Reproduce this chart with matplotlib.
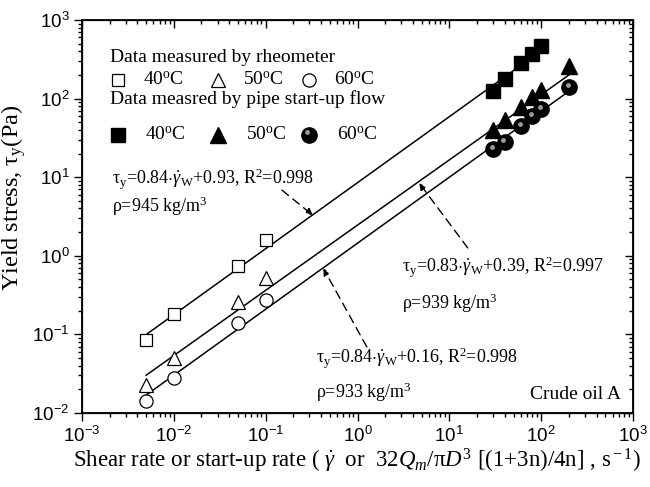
import numpy as np
import matplotlib
matplotlib.use('Agg')
import matplotlib.pyplot as plt
from matplotlib.ticker import LogLocator, FixedFormatter, FixedLocator, NullFormatter

plt.rcParams['font.family'] = ['Liberation Serif', 'DejaVu Serif']
plt.rcParams['mathtext.fontset'] = 'custom'
plt.rcParams['mathtext.rm'] = 'Liberation Serif'
plt.rcParams['mathtext.it'] = 'Liberation Serif:italic'
plt.rcParams['mathtext.sf'] = 'Liberation Sans'

# rheometer data
rate_rheo = [0.005, 0.01, 0.05, 0.1]
rheo_40 = [0.085, 0.18, 0.74, 1.6]
rheo_50 = [0.023, 0.05, 0.26, 0.52]
rheo_60 = [0.014, 0.028, 0.14, 0.27]

# pipe start-up data
rate_pipe_40 = [30, 40, 60, 80, 100]
pipe_40 = [125, 175, 280, 370, 470]
rate_pipe = [30, 40, 60, 80, 100, 200]
pipe_50 = [40, 53, 78, 105, 128, 260]
pipe_60 = [23, 28, 45, 60, 74, 140]

# fits: log(tau) = a*log(rate) + b
fit_a = [0.84, 0.83, 0.84]
fit_b = [0.93, 0.39, 0.16]
fit_range = [(0.005, 100), (0.005, 200), (0.005, 200)]

xt = [1e-3, 1e-2, 1e-1, 1e0, 1e1, 1e2, 1e3]
yt = [1e-2, 1e-1, 1e0, 1e1, 1e2, 1e3]

fig = plt.figure(figsize=(6.5, 4.87), dpi=100)
ax = fig.add_axes([0.126, 0.152, 0.848, 0.807])

for a, b, (x0, x1) in zip(fit_a, fit_b, fit_range):
    xx = np.array([x0, x1])
    ax.plot(xx, 10 ** (a * np.log10(xx) + b), color='black', lw=1.1, zorder=1)

ax.plot(rate_rheo, rheo_40, 's', mfc='white', mec='black', ms=8, mew=0.9, zorder=3)
ax.plot(rate_rheo, rheo_50, '^', mfc='white', mec='black', ms=10, mew=0.9, zorder=3)
ax.plot(rate_rheo, rheo_60, 'o', mfc='white', mec='black', ms=9.5, mew=0.9, zorder=3)

ax.plot(rate_pipe_40, pipe_40, 's', color='black', ms=10, zorder=3)
ax.plot(rate_pipe, pipe_50, '^', color='black', ms=11, zorder=3)
ax.plot(rate_pipe, pipe_60, 'o', color='black', ms=11, zorder=3)
ax.plot(np.array(rate_pipe) * 0.97, np.array(pipe_60) * 1.06, 'o', color='#9a9a9a',
        ms=3.5, mew=0, zorder=4)

ax.set_xscale('log')
ax.set_yscale('log')
ax.set_xlim(1e-3, 1e3)
ax.set_ylim(1e-2, 1e3)

ax.xaxis.set_major_locator(FixedLocator(xt))
ax.yaxis.set_major_locator(FixedLocator(yt))
ax.xaxis.set_major_formatter(FixedFormatter([r'$\mathsf{10^{%d}}$' % p for p in range(-3, 4)]))
ax.yaxis.set_major_formatter(FixedFormatter([r'$\mathsf{10^{%d}}$' % p for p in range(-2, 4)]))
ax.xaxis.set_minor_locator(LogLocator(base=10, subs=np.arange(2, 10), numticks=20))
ax.yaxis.set_minor_locator(LogLocator(base=10, subs=np.arange(2, 10), numticks=20))
ax.tick_params(which='both', direction='out', width=1.0)
ax.tick_params(which='major', length=6, labelsize=13.5, pad=3)
ax.tick_params(which='minor', length=3)
for s in ax.spines.values():
    s.set_linewidth(1.3)

# mirrored ticks on top and right, pointing inward
axt = ax.twiny()
axt.set_xscale('log')
axt.set_xlim(1e-3, 1e3)
axt.xaxis.set_major_locator(FixedLocator(xt))
axt.xaxis.set_minor_locator(LogLocator(base=10, subs=np.arange(2, 10), numticks=20))
axt.xaxis.set_major_formatter(NullFormatter())
axt.tick_params(which='both', direction='in', width=1.0)
axt.tick_params(which='major', length=6)
axt.tick_params(which='minor', length=3)
axr = ax.twinx()
axr.set_yscale('log')
axr.set_ylim(1e-2, 1e3)
axr.yaxis.set_major_locator(FixedLocator(yt))
axr.yaxis.set_minor_locator(LogLocator(base=10, subs=np.arange(2, 10), numticks=20))
axr.yaxis.set_major_formatter(NullFormatter())
axr.tick_params(which='both', direction='in', width=1.0)
axr.tick_params(which='major', length=6)
axr.tick_params(which='minor', length=3)

ax.set_xlabel(r'Shear rate or start-up rate ( $\dot{\gamma}$  or  32$Q_m$/π$D^3$ [(1+3n)/4n] , s$^{\rm -1}$)',
              fontsize=16.5, labelpad=1)
ax.set_ylabel(r'Yield stress, τ$_{\rm y}$(Pa)', fontsize=17.5, labelpad=3)
ax.yaxis.set_label_coords(-0.098, 0.547)

# legend drawn as text + markers in axes coords
fs = 14
ax.text(0.051, 0.905, 'Data measured by rheometer', transform=ax.transAxes, fontsize=fs, va='center')
ax.text(0.051, 0.80, 'Data measred by pipe start-up flow', transform=ax.transAxes, fontsize=fs, va='center')
row1, row2 = 0.847, 0.707
open_ms = {'s': 8, '^': 10, 'o': 9.5}
full_ms = {'s': 10, '^': 11, 'o': 11}
for xm, mk, lab in [(0.065, 's', '40$^{\\rm o}$C'), (0.247, '^', '50$^{\\rm o}$C'), (0.412, 'o', '60$^{\\rm o}$C')]:
    ax.plot([xm], [row1], mk, transform=ax.transAxes, mfc='white', mec='black', ms=open_ms[mk], mew=0.9)
    ax.text(xm + 0.046, row1, lab, transform=ax.transAxes, fontsize=fs, va='center')
    ax.plot([xm], [row2], mk, transform=ax.transAxes, color='black', ms=full_ms[mk])
    ax.text(xm + 0.05, row2, lab, transform=ax.transAxes, fontsize=fs, va='center')
ax.plot([0.408], [row2 + 0.008], 'o', transform=ax.transAxes, color='#9a9a9a', ms=3.5, mew=0)

# fit annotations
eq = [r'τ$_{\rm y}$=0.84$\cdot\dot{\gamma}_{\rm W}$+0.93, R$^2$=0.998',
      r'τ$_{\rm y}$=0.83$\cdot\dot{\gamma}_{\rm W}$+0.39, R$^2$=0.997',
      r'τ$_{\rm y}$=0.84$\cdot\dot{\gamma}_{\rm W}$+0.16, R$^2$=0.998']
rho = [r'ρ=945 kg/m$^3$', r'ρ=939 kg/m$^3$', r'ρ=933 kg/m$^3$']
eq_pos = [(0.054, 0.595), (0.581, 0.371), (0.425, 0.140)]
rho_pos = [(0.054, 0.525), (0.581, 0.280), (0.425, 0.052)]
for (tx, ty), (rx, ry), e, r in zip(eq_pos, rho_pos, eq, rho):
    ax.text(tx, ty, e, transform=ax.transAxes, fontsize=13, va='center')
    ax.text(rx, ry, r, transform=ax.transAxes, fontsize=13, va='center')

arrows = [((0.363, 0.567), (0.419, 0.503)),
          ((0.700, 0.420), (0.612, 0.585)),
          ((0.517, 0.168), (0.438, 0.368))]
for (x0, y0), (x1, y1) in arrows:
    ax.annotate('', xy=(x1, y1), xytext=(x0, y0), xycoords='axes fraction',
                arrowprops=dict(arrowstyle='-|>', ls=(0, (6, 4)), lw=1.0, color='black',
                                mutation_scale=10, shrinkA=0, shrinkB=0))

ax.text(0.978, 0.025, 'Crude oil A', transform=ax.transAxes, fontsize=fs, ha='right', va='bottom')

fig.savefig('out.png', dpi=100)
